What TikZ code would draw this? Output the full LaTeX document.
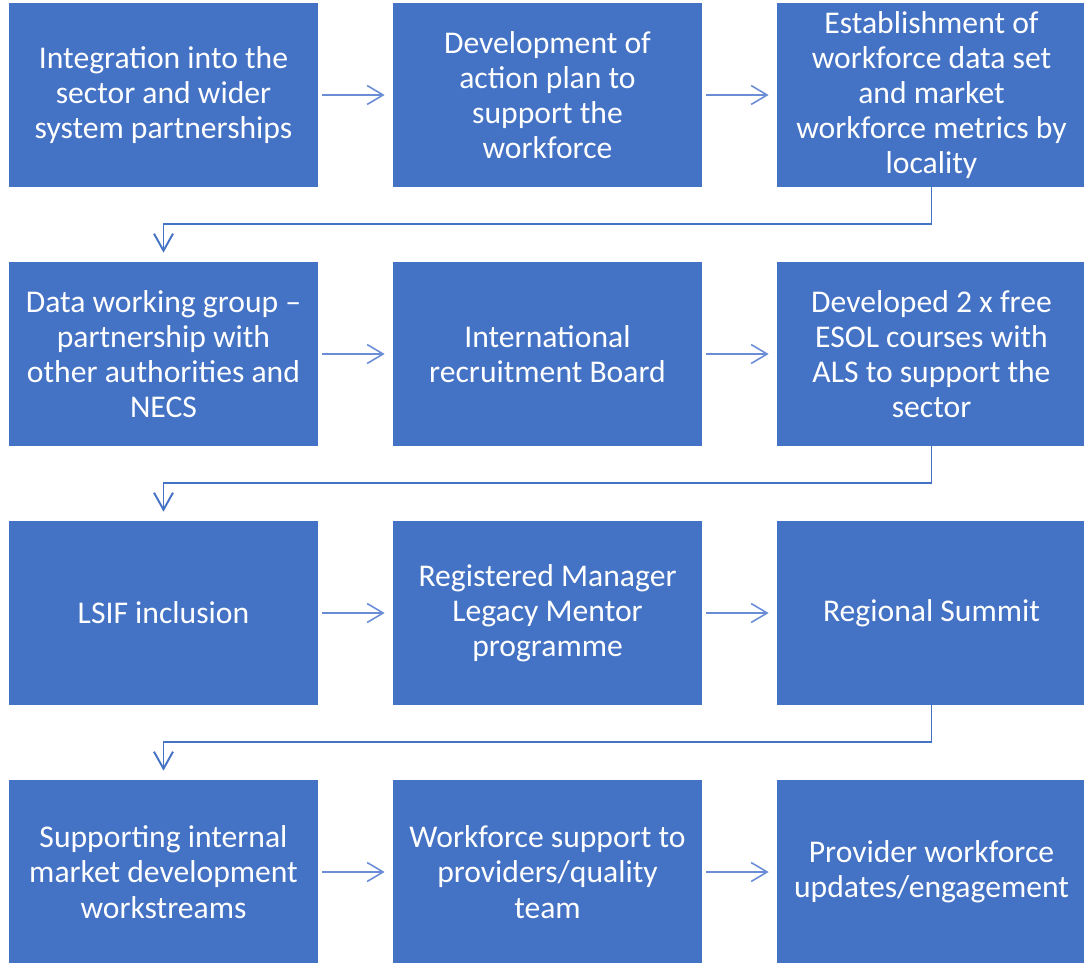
\documentclass[tikz,border=0pt]{standalone}
\usepackage{fontspec}
\setmainfont{Carlito}
\usetikzlibrary{arrows.meta}
\definecolor{boxblue}{HTML}{4472C4}
\definecolor{arrowblue}{HTML}{6A8DD6}
\begin{document}
\begin{tikzpicture}[
        stepbox/.style = {fill=boxblue, text=white, minimum width=6.18cm, minimum height=3.68cm,
            inner sep=0pt, align=center, font=\fontsize{18}{20}\selectfont},
        flow/.style = {arrowblue, line width=0.9pt, -{Straight Barb[length=3.2mm,width=3.8mm]},
            shorten <=0.08cm, shorten >=0.16cm},
        turn/.style = {boxblue, line width=1.1pt, -{Straight Barb[length=3.4mm,width=3.8mm]},
            shorten >=0.18cm}
    ]
        \useasboundingbox (0,0) rectangle (21.68,-19.26);

        \node [stepbox] (integration) at (3.27,-1.90) {Integration into the\\sector and wider\\system partnerships};
        \node [stepbox] (actionplan) at (10.95,-1.90) {Development of\\action plan to\\support the\\workforce};
        \node [stepbox] (dataset) at (18.63,-1.90) {Establishment of\\workforce data set\\and market\\workforce metrics by\\locality};

        \node [stepbox] (datagroup) at (3.27,-7.08) {Data working group --\\partnership with\\other authorities and\\NECS};
        \node [stepbox] (intboard) at (10.95,-7.08) {International\\recruitment Board};
        \node [stepbox] (esol) at (18.63,-7.08) {Developed 2 x free\\ESOL courses with\\ALS to support the\\sector};

        \node [stepbox] (lsif) at (3.27,-12.26) {LSIF inclusion};
        \node [stepbox] (mentor) at (10.95,-12.26) {Registered Manager\\Legacy Mentor\\programme};
        \node [stepbox] (summit) at (18.63,-12.26) {Regional Summit};

        \node [stepbox] (market) at (3.27,-17.44) {Supporting internal\\market development\\workstreams};
        \node [stepbox] (quality) at (10.95,-17.44) {Workforce support to\\providers/quality\\team};
        \node [stepbox] (engagement) at (18.63,-17.44) {Provider workforce\\updates/engagement};

        % arrows along each row
        \draw [flow] (integration) -- (actionplan);
        \draw [flow] (actionplan) -- (dataset);
        \draw [flow] (datagroup) -- (intboard);
        \draw [flow] (intboard) -- (esol);
        \draw [flow] (lsif) -- (mentor);
        \draw [flow] (mentor) -- (summit);
        \draw [flow] (market) -- (quality);
        \draw [flow] (quality) -- (engagement);

        % turns down to the next row
        \draw [turn] (dataset.south) -- ++(0,-0.74) -| (datagroup.north);
        \draw [turn] (esol.south) -- ++(0,-0.74) -| (lsif.north);
        \draw [turn] (summit.south) -- ++(0,-0.74) -| (market.north);

    \end{tikzpicture}
\end{document}
